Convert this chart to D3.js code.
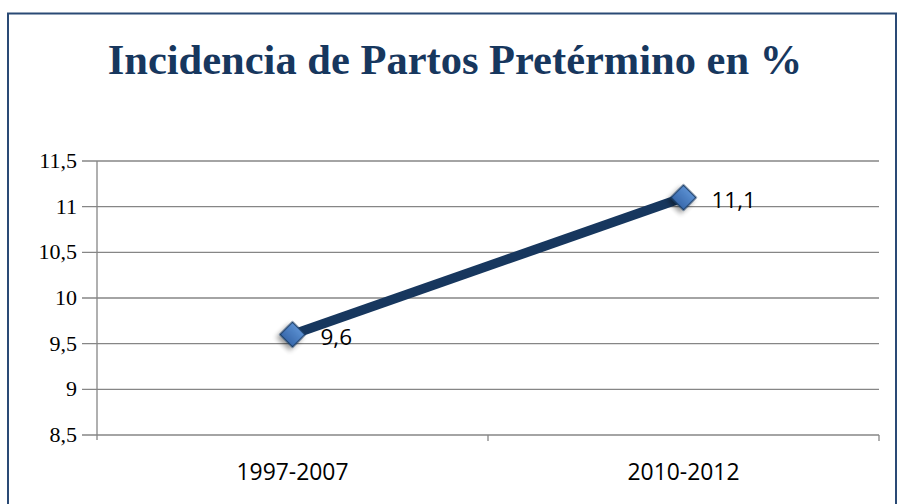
<!DOCTYPE html>
<html><head><meta charset="utf-8">
<script src="https://cdn.jsdelivr.net/npm/d3@7"></script>
<style>body{margin:0;background:#fff}svg{display:block}</style>
</head><body>
<svg id="c" width="897" height="504"></svg>
<script>
const categories = ["1997-2007", "2010-2012"];
const values = [9.6, 11.1];
const valueLabels = ["9,6", "11,1"];
const yTicks = [8.5, 9, 9.5, 10, 10.5, 11, 11.5];
const title = "Incidencia de Partos Pretérmino en %";

const svg = d3.select("#c");
const m = {left: 97, right: 879, top: 161, bottom: 435};

const defs = svg.append("defs");
const g = defs.append("linearGradient").attr("id","mk").attr("x1","0").attr("y1","0").attr("x2","0").attr("y2","1");
g.append("stop").attr("offset","0").attr("stop-color","#5b90d2");
g.append("stop").attr("offset","1").attr("stop-color","#3868ab");
const f = defs.append("filter").attr("id","sh").attr("x","-50%").attr("y","-50%").attr("width","200%").attr("height","200%");
f.append("feGaussianBlur").attr("in","SourceAlpha").attr("stdDeviation","2.5");
f.append("feOffset").attr("dy","4").attr("result","b");
f.append("feComponentTransfer").append("feFuncA").attr("type","linear").attr("slope","0.4");
const fm = f.append("feMerge"); fm.append("feMergeNode"); fm.append("feMergeNode").attr("in","SourceGraphic");

// outer border
svg.append("rect").attr("x",8).attr("y",13.5).attr("width",888).attr("height",500)
  .attr("fill","none").attr("stroke","#2a4a75").attr("stroke-width",2);

svg.append("text").attr("x",455).attr("y",74).attr("text-anchor","middle")
  .attr("font-family","'Liberation Serif', 'Times New Roman', serif").attr("font-weight","bold")
  .attr("font-size",42.5).attr("fill","#17375e").text(title);

const x = d3.scaleBand().domain(categories).range([m.left, m.right]);
const y = d3.scaleLinear().domain([8.5, 11.5]).range([m.bottom, m.top]);

// gridlines
svg.append("g").selectAll("line").data(yTicks).join("line")
  .attr("x1", m.left - 15).attr("x2", m.right)
  .attr("y1", d => y(d)).attr("y2", d => y(d))
  .attr("stroke","#868686").attr("stroke-width",1.3);

// y axis line
svg.append("line").attr("x1",m.left).attr("x2",m.left).attr("y1",m.top).attr("y2",m.bottom+5)
  .attr("stroke","#868686").attr("stroke-width",1.3);

// y labels
svg.append("g").selectAll("text").data(yTicks).join("text")
  .attr("x", 77).attr("y", d => y(d) + 7).attr("text-anchor","end")
  .attr("font-family","'Liberation Serif', 'Times New Roman', serif").attr("font-size",22)
  .attr("fill","#000").text(d => String(d).replace(".", ","));

// x ticks at band boundaries
const bounds = [m.left, ...categories.slice(1).map(c => x(c)), m.right];
svg.append("g").selectAll("line").data(bounds.slice(1)).join("line")
  .attr("x1", d => d).attr("x2", d => d).attr("y1", m.bottom).attr("y2", m.bottom + 6)
  .attr("stroke","#868686").attr("stroke-width",1.3);

// x labels
svg.append("g").selectAll("text").data(categories).join("text")
  .attr("x", d => x(d) + x.bandwidth()/2).attr("y", 480).attr("text-anchor","middle")
  .attr("font-family","Open Sans").attr("font-size",24)
  .attr("textLength",112).attr("lengthAdjust","spacingAndGlyphs")
  .attr("fill","#000").text(d => d);

const pts = categories.map((c,i) => [x(c) + x.bandwidth()/2, y(values[i])]);

svg.append("path").attr("d", d3.line()(pts)).attr("fill","none")
  .attr("stroke","#17375e").attr("stroke-width",9.5).attr("stroke-linecap","butt");

svg.append("g").selectAll("path").data(pts).join("path")
  .attr("d", d3.symbol().type(d3.symbolSquare).size(320))
  .attr("transform", d => `translate(${d[0]},${d[1]}) rotate(45)`)
  .attr("fill","url(#mk)").attr("stroke","#17375e").attr("stroke-width",1.2)
  .attr("filter","url(#sh)");

svg.append("g").selectAll("text").data(pts).join("text")
  .attr("x", d => d[0] + 28).attr("y", d => d[1] + 10)
  .attr("font-family","Open Sans").attr("font-size",22.5)
  .attr("fill","#000").text((d,i) => valueLabels[i]);
</script>
</body></html>
